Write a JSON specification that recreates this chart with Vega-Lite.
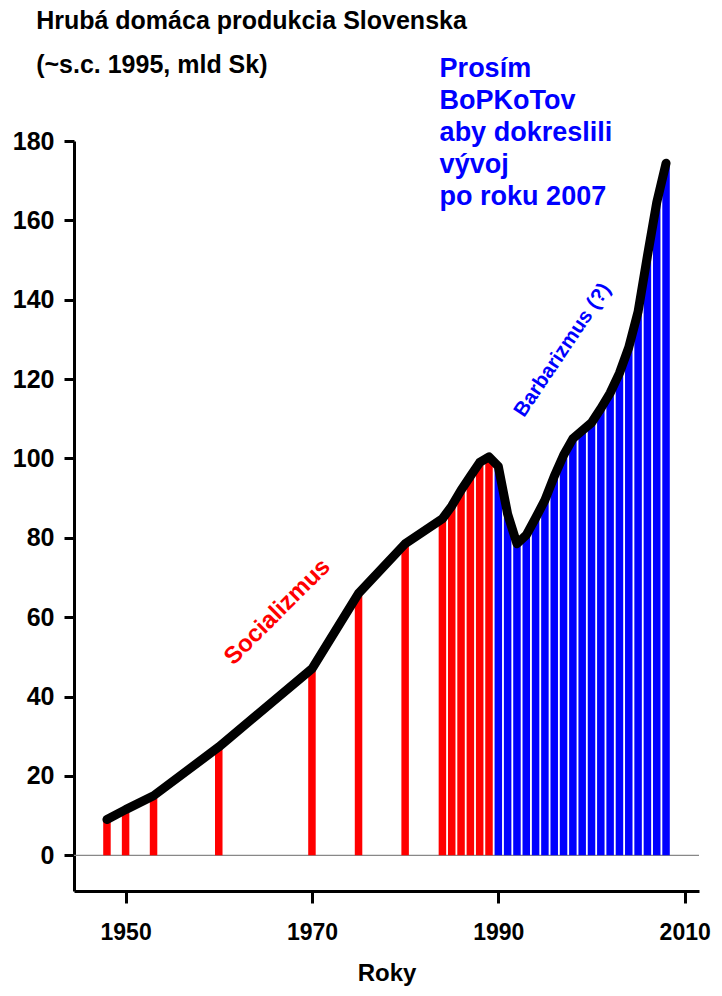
{
  "$schema": "https://vega.github.io/schema/vega-lite/v6.json",
  "width": 625,
  "height": 750,
  "autosize": {"type": "none"},
  "padding": {"left": 74, "top": 141, "right": 23, "bottom": 105},
  "config": {"view": {"stroke": null}, "font": "Liberation Sans"},
  "data": {
    "values": [
      {"rok": 1948, "hdp": 9, "obdobie": "Socializmus"},
      {"rok": 1950, "hdp": 11.5, "obdobie": "Socializmus"},
      {"rok": 1953, "hdp": 15, "obdobie": "Socializmus"},
      {"rok": 1960, "hdp": 27.3, "obdobie": "Socializmus"},
      {"rok": 1970, "hdp": 47, "obdobie": "Socializmus"},
      {"rok": 1975, "hdp": 66, "obdobie": "Socializmus"},
      {"rok": 1980, "hdp": 78.5, "obdobie": "Socializmus"},
      {"rok": 1984, "hdp": 84.8, "obdobie": "Socializmus"},
      {"rok": 1985, "hdp": 88, "obdobie": "Socializmus"},
      {"rok": 1986, "hdp": 92, "obdobie": "Socializmus"},
      {"rok": 1987, "hdp": 95.5, "obdobie": "Socializmus"},
      {"rok": 1988, "hdp": 99, "obdobie": "Socializmus"},
      {"rok": 1989, "hdp": 100.4, "obdobie": "Socializmus"},
      {"rok": 1990, "hdp": 98, "obdobie": "Barbarizmus"},
      {"rok": 1991, "hdp": 86, "obdobie": "Barbarizmus"},
      {"rok": 1992, "hdp": 78.5, "obdobie": "Barbarizmus"},
      {"rok": 1993, "hdp": 80.7, "obdobie": "Barbarizmus"},
      {"rok": 1994, "hdp": 85, "obdobie": "Barbarizmus"},
      {"rok": 1995, "hdp": 89.5, "obdobie": "Barbarizmus"},
      {"rok": 1996, "hdp": 95.5, "obdobie": "Barbarizmus"},
      {"rok": 1997, "hdp": 100.8, "obdobie": "Barbarizmus"},
      {"rok": 1998, "hdp": 105, "obdobie": "Barbarizmus"},
      {"rok": 1999, "hdp": 107, "obdobie": "Barbarizmus"},
      {"rok": 2000, "hdp": 109, "obdobie": "Barbarizmus"},
      {"rok": 2001, "hdp": 112.6, "obdobie": "Barbarizmus"},
      {"rok": 2002, "hdp": 116.5, "obdobie": "Barbarizmus"},
      {"rok": 2003, "hdp": 121.5, "obdobie": "Barbarizmus"},
      {"rok": 2004, "hdp": 128, "obdobie": "Barbarizmus"},
      {"rok": 2005, "hdp": 137, "obdobie": "Barbarizmus"},
      {"rok": 2006, "hdp": 151, "obdobie": "Barbarizmus"},
      {"rok": 2007, "hdp": 164.5, "obdobie": "Barbarizmus"},
      {"rok": 2008, "hdp": 174.4, "obdobie": "Barbarizmus"}
    ]
  },
  "encoding": {
    "x": {
      "field": "rok",
      "type": "quantitative",
      "scale": {"domain": [1945, 2011], "nice": false, "zero": false},
      "axis": {
        "values": [1950, 1970, 1990, 2010],
        "format": "d",
        "title": "Roky",
        "titleFontSize": 24,
        "titleFontWeight": "bold",
        "titleColor": "black",
        "titlePadding": 17,
        "labelFontSize": 23,
        "labelFontWeight": "bold",
        "labelColor": "black",
        "labelPadding": 18,
        "domainColor": "black",
        "domainWidth": 3,
        "tickColor": "black",
        "tickWidth": 3,
        "tickSize": 12,
        "grid": false
      }
    },
    "y": {
      "field": "hdp",
      "type": "quantitative",
      "scale": {"domain": [-9, 180], "nice": false},
      "axis": {
        "values": [0, 20, 40, 60, 80, 100, 120, 140, 160, 180],
        "title": null,
        "labelFontSize": 25,
        "labelFontWeight": "bold",
        "labelColor": "black",
        "labelPadding": 10,
        "domainColor": "black",
        "domainWidth": 3,
        "tickColor": "black",
        "tickWidth": 3,
        "tickSize": 10,
        "grid": false
      }
    }
  },
  "layer": [
    {
      "transform": [{"filter": "datum.rok == 2008"}],
      "mark": {"type": "rule", "color": "#888888", "strokeWidth": 1.2},
      "encoding": {"y": {"datum": 0}, "x": null}
    },
    {
      "mark": {"type": "bar", "width": 7.5},
      "encoding": {
        "color": {
          "field": "obdobie",
          "type": "nominal",
          "scale": {"domain": ["Socializmus", "Barbarizmus"], "range": ["#ff0000", "#0000ff"]},
          "legend": null
        }
      }
    },
    {
      "mark": {"type": "line", "color": "black", "strokeWidth": 9, "strokeCap": "round", "strokeJoin": "round", "interpolate": "linear"}
    },
    {
      "transform": [{"filter": "datum.rok == 2008"}],
      "mark": {"type": "text", "text": "Socializmus", "angle": -45, "fontSize": 24, "fontWeight": "bold", "color": "#ff0000", "align": "center", "baseline": "middle"},
      "encoding": {"x": {"datum": 1966.3}, "y": {"datum": 61.3}}
    },
    {
      "transform": [{"filter": "datum.rok == 2008"}],
      "mark": {"type": "text", "text": "Barbarizmus (?)", "angle": -56, "fontSize": 20.5, "fontWeight": "bold", "color": "#0000ff", "align": "center", "baseline": "middle"},
      "encoding": {"x": {"datum": 1996.9}, "y": {"datum": 127.3}}
    },
    {
      "transform": [{"filter": "datum.rok == 2008"}],
      "mark": {"type": "text", "text": ["Prosím", "BoPKoTov", "aby dokreslili", "vývoj", "po roku 2007"], "fontSize": 27, "fontWeight": "bold", "color": "#0000ff", "align": "left", "baseline": "top", "lineHeight": 32},
      "encoding": {"x": {"datum": 1983.7}, "y": {"datum": 201.3}}
    },
    {
      "transform": [{"filter": "datum.rok == 2008"}],
      "mark": {"type": "text", "text": ["Hrubá domáca produkcia Slovenska", "(~s.c. 1995, mld Sk)"], "fontSize": 25, "fontWeight": "bold", "color": "black", "align": "left", "baseline": "top", "lineHeight": 44},
      "encoding": {"x": {"datum": 1940.4}, "y": {"datum": 213.2}}
    }
  ]
}
